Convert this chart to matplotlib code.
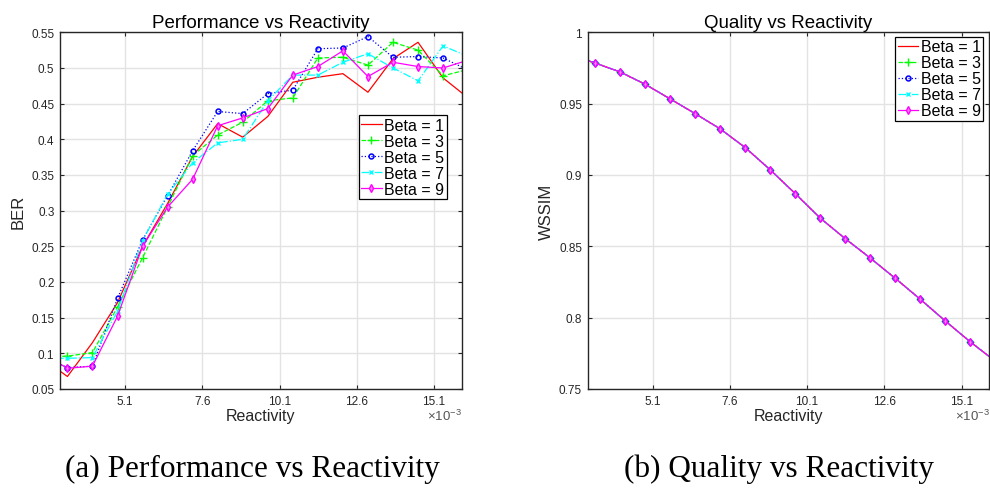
import numpy as np
import matplotlib
matplotlib.use("Agg")
import matplotlib.pyplot as plt

plt.rcParams['font.family'] = ['Liberation Sans', 'DejaVu Sans']
plt.rcParams['mathtext.fontset'] = 'custom'
plt.rcParams['mathtext.rm'] = 'Liberation Sans'
plt.rcParams['mathtext.it'] = 'Liberation Sans:italic'

# ---- data ----
reactivity = np.array([2.43, 3.24, 4.05, 4.86, 5.67, 6.48, 7.29, 8.10, 8.91, 9.72,
                       10.53, 11.34, 12.15, 12.96, 13.77, 14.58, 15.39, 16.20]) * 1e-3

betas = ['Beta = 1', 'Beta = 3', 'Beta = 5', 'Beta = 7', 'Beta = 9']

ber_beta1 = [0.093, 0.0675, 0.115, 0.171, 0.250, 0.310, 0.376, 0.422, 0.403, 0.432,
             0.480, 0.487, 0.492, 0.466, 0.513, 0.536, 0.486, 0.458]
ber_beta3 = [0.095, 0.096, 0.101, 0.165, 0.234, 0.305, 0.377, 0.406, 0.424, 0.454,
             0.458, 0.514, 0.515, 0.504, 0.536, 0.525, 0.489, 0.498]
ber_beta5 = [0.095, 0.080, 0.082, 0.177, 0.259, 0.321, 0.384, 0.439, 0.436, 0.464,
             0.469, 0.527, 0.528, 0.544, 0.515, 0.516, 0.514, 0.497]
ber_beta7 = [0.093, 0.093, 0.094, 0.159, 0.258, 0.323, 0.367, 0.395, 0.400, 0.454,
             0.490, 0.490, 0.508, 0.520, 0.500, 0.482, 0.531, 0.516]
ber_beta9 = [0.100, 0.079, 0.082, 0.152, 0.250, 0.305, 0.344, 0.419, 0.430, 0.443,
             0.490, 0.502, 0.524, 0.488, 0.508, 0.502, 0.500, 0.511]

wssim = [0.9840, 0.9785, 0.9722, 0.9636, 0.9533, 0.9430, 0.9323, 0.9192, 0.9036,
         0.8869, 0.8697, 0.8553, 0.8417, 0.8275, 0.8128, 0.7976, 0.7829, 0.7694]

xtick_vals = [5.1e-3, 7.6e-3, 10.1e-3, 12.6e-3, 15.1e-3]
xtick_labels = ['5.1', '7.6', '10.1', '12.6', '15.1']
ber_ticks = [0.05, 0.1, 0.15, 0.2, 0.25, 0.3, 0.35, 0.4, 0.45, 0.5, 0.55]
ber_tick_labels = ['0.05', '0.1', '0.15', '0.2', '0.25', '0.3', '0.35', '0.4', '0.45', '0.5', '0.55']
wssim_ticks = [0.75, 0.8, 0.85, 0.9, 0.95, 1.0]
wssim_tick_labels = ['0.75', '0.8', '0.85', '0.9', '0.95', '1']

styles = [
    dict(color='#ff0000', linestyle='-', marker=None),
    dict(color='#00ff00', linestyle='--', marker='+', markersize=6),
    dict(color='#0000ff', linestyle=':', marker='o', markersize=3.5, markerfacecolor='none', markeredgewidth=1.1),
    dict(color='#00ffff', linestyle='-.', marker='x', markersize=3.5),
    dict(color='#ff00ff', linestyle='-', marker='d', markersize=4, markerfacecolor='#ff88ff'),
]

fig = plt.figure(figsize=(9.9, 4.89), dpi=100)
ax1 = fig.add_axes([0.0606, 0.2025, 0.406, 0.7294])
ax2 = fig.add_axes([0.5936, 0.2025, 0.4057, 0.7294])

axcol = '#262626'

def style_axes(ax):
    ax.set_xlim(3.0e-3, 16.0e-3)
    ax.set_xticks(xtick_vals)
    ax.set_xticklabels(xtick_labels)
    ax.grid(True, color='#e3e3e3', linewidth=1.0)
    ax.set_axisbelow(True)
    ax.tick_params(direction='in', length=3, width=0.8, top=True, right=True,
                   labelsize=8.5, colors=axcol, pad=4)
    for s in ax.spines.values():
        s.set_color(axcol)
        s.set_linewidth(1.0)
    ax.set_xlabel('Reactivity', fontsize=11.5, color=axcol, labelpad=1)
    ax.text(1.0, -0.052, r'$\times10^{-3}$', transform=ax.transAxes, ha='right', va='top',
            fontsize=9.5, color='#555555')

series = [ber_beta1, ber_beta3, ber_beta5, ber_beta7, ber_beta9]
for lab, vals, st in zip(betas, series, styles):
    ax1.plot(reactivity, vals, label=lab, linewidth=0.9, **st)
style_axes(ax1)
ax1.set_ylim(0.05, 0.55)
ax1.set_yticks(ber_ticks)
ax1.set_yticklabels(ber_tick_labels)
ax1.set_ylabel('BER', fontsize=12, color=axcol, labelpad=4)
ax1.set_title('Performance vs Reactivity', fontsize=13.5, color='black', pad=4)
leg1 = ax1.legend(loc='upper right', bbox_to_anchor=(0.962, 0.767), fontsize=11.5,
                  frameon=True, fancybox=False, edgecolor='black', framealpha=1,
                  handlelength=1.3, handletextpad=0.15, labelspacing=0.06,
                  borderpad=0.15, borderaxespad=0, markerscale=1.0)
leg1.get_frame().set_linewidth(0.9)

for lab, st in zip(betas, styles):
    ax2.plot(reactivity, wssim, label=lab, linewidth=0.9, **st)
style_axes(ax2)
ax2.set_ylim(0.75, 1.0)
ax2.set_yticks(wssim_ticks)
ax2.set_yticklabels(wssim_tick_labels)
ax2.set_ylabel('WSSIM', fontsize=12, color=axcol, labelpad=4)
ax2.set_title('Quality vs Reactivity', fontsize=13.5, color='black', pad=4)
leg2 = ax2.legend(loc='upper right', bbox_to_anchor=(0.985, 0.987), fontsize=11.5,
                  frameon=True, fancybox=False, edgecolor='black', framealpha=1,
                  handlelength=1.3, handletextpad=0.15, labelspacing=0.06,
                  borderpad=0.15, borderaxespad=0)
leg2.get_frame().set_linewidth(0.9)

fig.text(0.255, 0.040, '(a) Performance vs Reactivity', ha='center', va='center',
         fontsize=22.5, family=['Liberation Serif', 'DejaVu Serif'])
fig.text(0.787, 0.040, '(b) Quality vs Reactivity', ha='center', va='center',
         fontsize=22.5, family=['Liberation Serif', 'DejaVu Serif'])

fig.savefig('out.png', dpi=100)
